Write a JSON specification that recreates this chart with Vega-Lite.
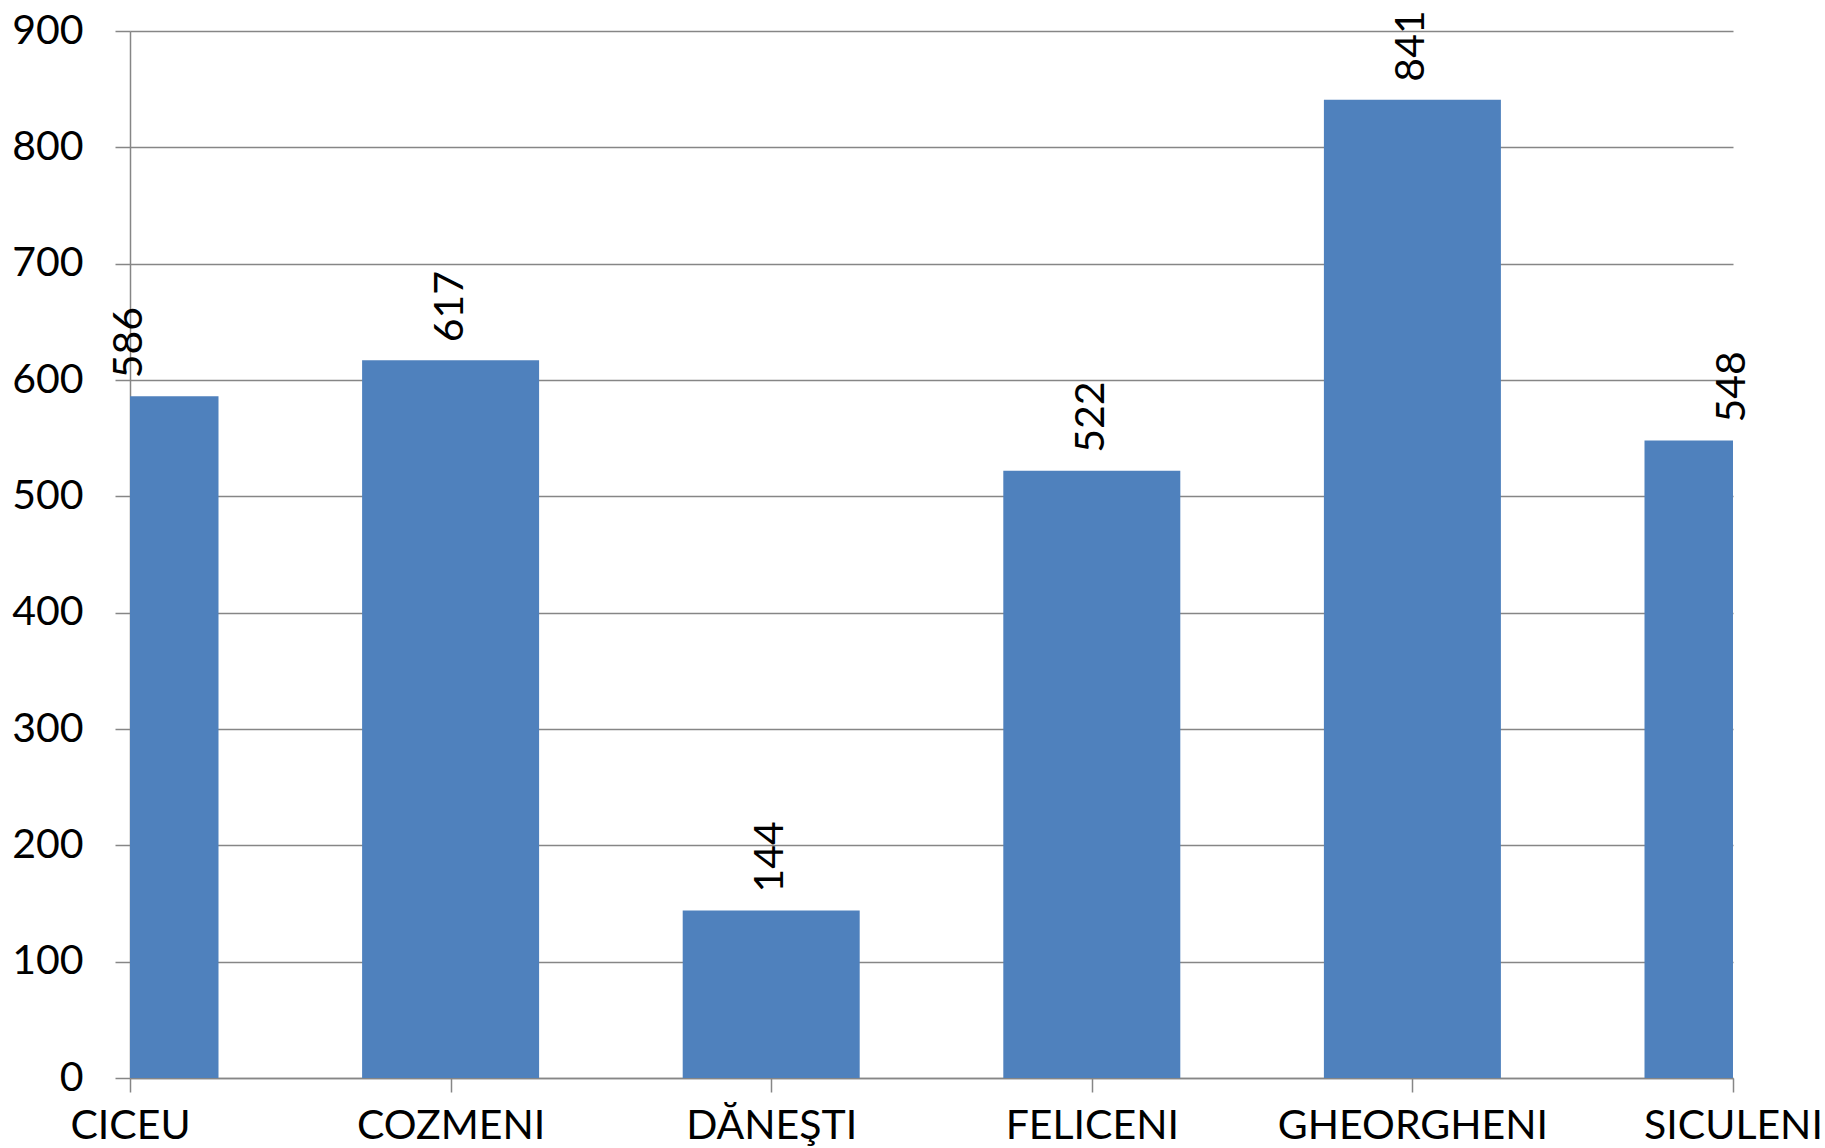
{
  "$schema": "https://vega.github.io/schema/vega-lite/v6.json",
  "autosize": {"type": "none"},
  "padding": {"left": 130, "top": 31, "right": 92, "bottom": 70},
  "width": 1603,
  "height": 1047,
  "background": "white",
  "config": {
    "view": {"stroke": null},
    "font": "Lato"
  },
  "data": {
    "values": [
      {"loc": "CICEU", "value": 586},
      {"loc": "COZMENI", "value": 617},
      {"loc": "DĂNEŞTI", "value": 144},
      {"loc": "FELICENI", "value": 522},
      {"loc": "GHEORGHENI", "value": 841},
      {"loc": "SICULENI", "value": 548}
    ]
  },
  "encoding": {
    "x": {
      "field": "loc",
      "type": "nominal",
      "sort": null,
      "scale": {"type": "point", "padding": 0},
      "axis": {
        "title": null,
        "labelAngle": 0,
        "labelFont": "Lato",
        "labelFontSize": 41,
        "labelColor": "black",
        "labelBaseline": "alphabetic",
        "labelPadding": 46,
        "labelLimit": 0,
        "tickSize": 14,
        "tickColor": "#868686",
        "tickWidth": 1.5,
        "domainColor": "#868686",
        "domainWidth": 1.5,
        "grid": false,
        "labelOverlap": false,
        "labelBound": false
      }
    },
    "y": {
      "field": "value",
      "type": "quantitative",
      "scale": {"domain": [0, 900], "nice": false},
      "axis": {
        "title": null,
        "values": [0, 100, 200, 300, 400, 500, 600, 700, 800, 900],
        "labelFont": "Lato",
        "labelFontSize": 41,
        "labelColor": "black",
        "labelPadding": 32,
        "tickSize": 15,
        "tickColor": "#868686",
        "tickWidth": 1.5,
        "domainColor": "#868686",
        "domainWidth": 1.5,
        "grid": true,
        "gridColor": "#868686",
        "gridWidth": 1.5,
        "labelOverlap": false
      }
    }
  },
  "layer": [
    {
      "mark": {"type": "bar", "width": 177, "color": "#4F81BD", "clip": true}
    },
    {
      "mark": {
        "type": "text",
        "angle": 270,
        "align": "left",
        "baseline": "middle",
        "dx": 18,
        "font": "Lato",
        "fontSize": 41,
        "color": "black"
      },
      "encoding": {
        "text": {"field": "value", "type": "quantitative"}
      }
    }
  ]
}
